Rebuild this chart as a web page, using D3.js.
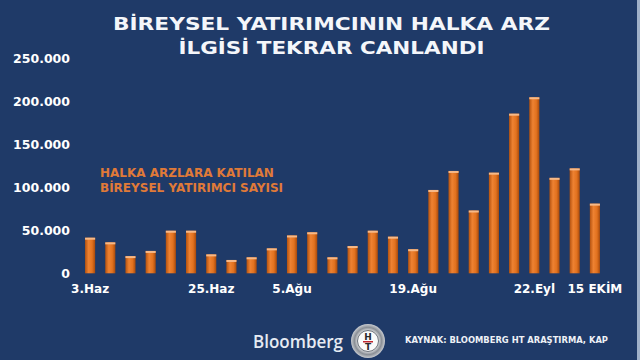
<!DOCTYPE html>
<html>
<head>
<meta charset="utf-8">
<script src="https://cdn.jsdelivr.net/npm/d3@7"></script>
<style>
  html, body { margin: 0; padding: 0; background: #1f3a68; }
  svg { display: block; }
  .axis text { fill: #fff; font-family: 'DejaVu Sans', sans-serif; font-weight: bold; }
</style>
</head>
<body>
<script>
// halka arz sayisi (bin kisi), soldan saga
const ipoValues = [41.4, 36, 20, 26, 49.5, 49.5, 22, 15.5, 18.6, 29, 44, 47.7, 18.6,
  31.7, 49.5, 42.6, 28, 96.9, 119, 73, 117, 185.6, 204.7, 111, 122, 81];
const xLabels = ['3.Haz', '', '', '', '', '', '25.Haz', '', '', '', '5.Ağu', '', '', '',
  '', '', '19.Ağu', '', '', '', '', '', '22.Eyl', '', '', '15 EKİM'];
const yTicks = [0, 50000, 100000, 150000, 200000, 250000];
const titleLines = ['BİREYSEL YATIRIMCININ HALKA ARZ', 'İLGİSİ TEKRAR CANLANDI'];
const legendLines = ['HALKA ARZLARA KATILAN', 'BİREYSEL YATIRIMCI SAYISI'];

const width = 640;
const height = 360;

const tr = d3.formatLocale({ decimal: ',', thousands: '.', grouping: [3], currency: ['', ''] });
const fmt = tr.format(',d');

let svg = d3.select('body')
  .append('svg')
  .attr('width', width)
  .attr('height', height);

svg.append('rect')
  .attr('width', width)
  .attr('height', height)
  .attr('fill', '#1f3a68');

// sag kenardaki acik serit
svg.append('rect')
  .attr('x', 637)
  .attr('width', 3)
  .attr('height', height)
  .attr('fill', '#9fb0c8');

let defs = svg.append('defs');

let barGrad = defs.append('linearGradient')
  .attr('id', 'barGrad')
  .attr('x1', '0%').attr('x2', '100%')
  .attr('y1', '0%').attr('y2', '0%');
barGrad.append('stop').attr('offset', '0%').attr('stop-color', '#b4520f');
barGrad.append('stop').attr('offset', '35%').attr('stop-color', '#ee8232');
barGrad.append('stop').attr('offset', '70%').attr('stop-color', '#e2721f');
barGrad.append('stop').attr('offset', '100%').attr('stop-color', '#a84a0c');

let ringGrad = defs.append('radialGradient')
  .attr('id', 'ringGrad');
ringGrad.append('stop').attr('offset', '55%').attr('stop-color', '#f2f2f2');
ringGrad.append('stop').attr('offset', '80%').attr('stop-color', '#8a8f96');
ringGrad.append('stop').attr('offset', '100%').attr('stop-color', '#c9ccd1');

let x = d3.scaleBand()
  .domain(d3.range(ipoValues.length))
  .range([80, 605])
  .paddingInner(0.5)
  .paddingOuter(0.25);

let y = d3.scaleLinear()
  .domain([0, 250000])
  .range([273.3, 58.3]);

// baslik
svg.append('g')
  .selectAll('text')
  .data(titleLines)
  .enter()
  .append('text')
  .attr('x', 331.5)
  .attr('y', function (d, i) { return i === 0 ? 29.5 : 54; })
  .attr('text-anchor', 'middle')
  .attr('textLength', function (d, i) { return i === 0 ? 437 : 306; })
  .attr('lengthAdjust', 'spacingAndGlyphs')
  .style('font-family', 'DejaVu Sans, sans-serif')
  .style('font-weight', 'bold')
  .style('font-size', '17.5px')
  .style('fill', '#f4f6fa')
  .text(function (d) { return d; });

// y ekseni
let yAxis = svg.append('g')
  .attr('class', 'axis')
  .attr('transform', 'translate(72,0)')
  .call(d3.axisLeft(y).tickValues(yTicks).tickSize(0).tickPadding(2).tickFormat(fmt));
yAxis.select('.domain').remove();
yAxis.selectAll('text').style('font-size', '12.5px');

// x ekseni
let xAxis = svg.append('g')
  .attr('class', 'axis')
  .attr('transform', 'translate(0,' + 282 + ')')
  .call(d3.axisBottom(x).tickSize(0).tickPadding(0).tickFormat(function (i) { return xLabels[i]; }));
xAxis.select('.domain').remove();
xAxis.selectAll('text')
  .attr('dy', '0.95em')
  .style('font-size', '12px');

// cubuklar
let bars = svg.append('g');

bars.selectAll('.bar')
  .data(ipoValues)
  .enter()
  .append('rect')
  .attr('class', 'bar')
  .attr('x', function (d, i) { return x(i); })
  .attr('y', function (d) { return y(d * 1000); })
  .attr('width', x.bandwidth())
  .attr('height', function (d) { return y(0) - y(d * 1000); })
  .attr('fill', 'url(#barGrad)');

bars.selectAll('.cap')
  .data(ipoValues)
  .enter()
  .append('rect')
  .attr('class', 'cap')
  .attr('x', function (d, i) { return x(i); })
  .attr('y', function (d) { return y(d * 1000); })
  .attr('width', x.bandwidth())
  .attr('height', 2)
  .attr('fill', '#f6b988');

// aciklama
svg.append('g')
  .selectAll('text')
  .data(legendLines)
  .enter()
  .append('text')
  .attr('x', 100)
  .attr('y', function (d, i) { return 177 + i * 15; })
  .style('font-family', 'DejaVu Sans, sans-serif')
  .style('font-weight', 'bold')
  .style('font-size', '12px')
  .style('fill', '#e07a38')
  .text(function (d) { return d; });

// alt bilgi
svg.append('text')
  .attr('x', 253)
  .attr('y', 348)
  .attr('textLength', 90)
  .attr('lengthAdjust', 'spacingAndGlyphs')
  .style('font-family', 'Open Sans, sans-serif')
  .style('font-weight', '600')
  .style('font-size', '18px')
  .style('fill', '#e6ebf3')
  .text('Bloomberg');

let logo = svg.append('g').attr('transform', 'translate(368,341)');
logo.append('circle').attr('r', 17).attr('fill', 'url(#ringGrad)');
logo.append('circle').attr('r', 10.5).attr('fill', '#fafafa').attr('stroke', '#6d737b').attr('stroke-width', 1);
logo.append('text')
  .attr('y', -1)
  .attr('text-anchor', 'middle')
  .style('font-family', 'DejaVu Sans, sans-serif')
  .style('font-weight', 'bold')
  .style('font-size', '9px')
  .style('fill', '#2a2a2a')
  .text('H');
logo.append('rect').attr('x', -5).attr('y', 0).attr('width', 10).attr('height', 1.5).attr('fill', '#c0272d');
logo.append('text')
  .attr('y', 9)
  .attr('text-anchor', 'middle')
  .style('font-family', 'DejaVu Sans, sans-serif')
  .style('font-weight', 'bold')
  .style('font-size', '9px')
  .style('fill', '#2a2a2a')
  .text('T');

svg.append('text')
  .attr('x', 405)
  .attr('y', 343.3)
  .attr('textLength', 203)
  .attr('lengthAdjust', 'spacingAndGlyphs')
  .style('font-family', 'DejaVu Sans, sans-serif')
  .style('font-weight', 'bold')
  .style('font-size', '8px')
  .style('fill', '#eef1f6')
  .text('KAYNAK: BLOOMBERG HT ARAŞTIRMA, KAP');
</script>
</body>
</html>
